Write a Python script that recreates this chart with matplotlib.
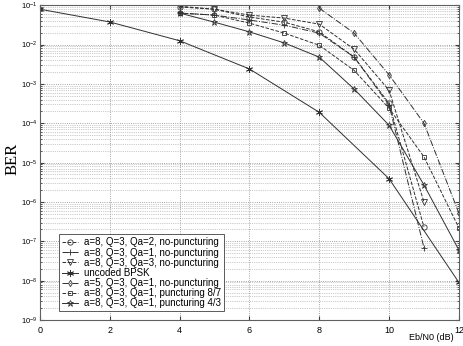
import numpy as np
import matplotlib
matplotlib.use("Agg")
import matplotlib.pyplot as plt
from matplotlib.ticker import LogLocator, NullFormatter

# BER curves
ebn0_bpsk = [0, 2, 4, 6, 8, 10, 12]
ber_bpsk = [7.9e-2, 3.75e-2, 1.25e-2, 2.4e-3, 1.9e-4, 3.9e-6, 9.0e-9]

ebn0_nop = [4, 5, 6, 7, 8, 9, 10, 11]
ber_qa2 = [9.0e-2, 7.9e-2, 5.0e-2, 3.7e-2, 2.1e-2, 4.8e-3, 3.2e-4, 2.3e-7]
ber_qa1 = [6.3e-2, 5.6e-2, 4.2e-2, 3.1e-2, 1.95e-2, 4.8e-3, 2.9e-4, 6.8e-8]
ber_qa3 = [9.4e-2, 7.9e-2, 5.6e-2, 4.7e-2, 3.3e-2, 7.6e-3, 6.9e-4, 1.0e-6]

ebn0_a5 = [8, 9, 10, 11, 12]
ber_a5 = [8.4e-2, 1.95e-2, 1.7e-3, 1.0e-4, 5.2e-7]

ebn0_punc = [4, 5, 6, 7, 8, 9, 10, 11, 12]
ber_p87 = [6.3e-2, 5.6e-2, 3.5e-2, 1.95e-2, 9.6e-3, 2.2e-3, 2.4e-4, 1.4e-5, 2.2e-7]
ber_p43 = [6.3e-2, 3.7e-2, 2.1e-2, 1.1e-2, 4.8e-3, 7.4e-4, 8.9e-5, 2.7e-6, 6.0e-8]

labels = ["a=8, Q=3, Qa=2, no-puncturing", "a=8, Q=3, Qa=1, no-puncturing",
          "a=8, Q=3, Qa=3, no-puncturing", "uncoded BPSK",
          "a=5, Q=3, Qa=1, no-puncturing", "a=8, Q=3, Qa=1, puncturing 8/7",
          "a=8, Q=3, Qa=1, puncturing 4/3"]

plt.rcParams["font.family"] = ["Liberation Sans", "DejaVu Sans"]
fig = plt.figure(figsize=(4.64, 3.46), dpi=100)
ax = fig.add_axes([0.086, 0.075, 0.903, 0.91])

lc = "#303030"
kw = dict(color=lc, lw=0.7, ms=3.8, mfc="none", mec=lc, mew=0.6)
ax.semilogy(ebn0_nop, ber_qa2, "--", marker="o", label=labels[0], **kw)
ax.semilogy(ebn0_nop, ber_qa1, "-.", marker="+", label=labels[1], **dict(kw, ms=5))
ax.semilogy(ebn0_nop, ber_qa3, "--", marker="v", label=labels[2], **kw)
ax.semilogy(ebn0_bpsk, ber_bpsk, "-", marker=(6, 2, 0), label=labels[3], **dict(kw, ms=5))
ax.semilogy(ebn0_a5, ber_a5, "-.", marker="d", label=labels[4], **dict(kw, ms=3.2))
ax.semilogy(ebn0_punc, ber_p87, "--", marker="s", label=labels[5], **dict(kw, ms=3.5))
ax.semilogy(ebn0_punc, ber_p43, "-", marker="*", label=labels[6], **dict(kw, ms=4.5))

ax.set_xlim(0, 12)
ax.set_ylim(1e-9, 1e-1)
ax.set_xticks(range(0, 13, 2))
ax.yaxis.set_major_locator(LogLocator(base=10, numticks=20))
ax.yaxis.set_minor_locator(LogLocator(base=10, subs=np.arange(2, 10), numticks=20))
ax.yaxis.set_minor_formatter(NullFormatter())
ax.tick_params(which="both", direction="in", top=True, right=True, colors="#404040",
               labelcolor="black")
ax.tick_params(axis="x", labelsize=6.5, pad=4)
ax.tick_params(axis="y", labelsize=5.5, pad=2)
ax.tick_params(which="major", length=3)
ax.tick_params(which="minor", length=1.5)
ax.grid(which="major", ls=":", lw=0.6, color="#888888")
ax.grid(which="minor", axis="y", ls=":", lw=0.5, color="#999999")
for s in ax.spines.values():
    s.set_color("#606060"); s.set_linewidth(0.8)

fig.text(0.027, 0.54, "BER", rotation=90, ha="center", va="center", family="Liberation Serif", fontsize=12)
fig.text(0.93, 0.012, "Eb/N0 (dB)", ha="center", va="bottom", fontsize=6.5)

leg = ax.legend(loc="lower left", bbox_to_anchor=(0.034, 0.012), fontsize=7, handlelength=1.7,
                borderpad=0.3, labelspacing=0.02, handletextpad=0.6, fancybox=False, framealpha=1)
leg.get_frame().set_edgecolor("#404040"); leg.get_frame().set_linewidth(0.6)

fig.savefig("out.png", dpi=100)
